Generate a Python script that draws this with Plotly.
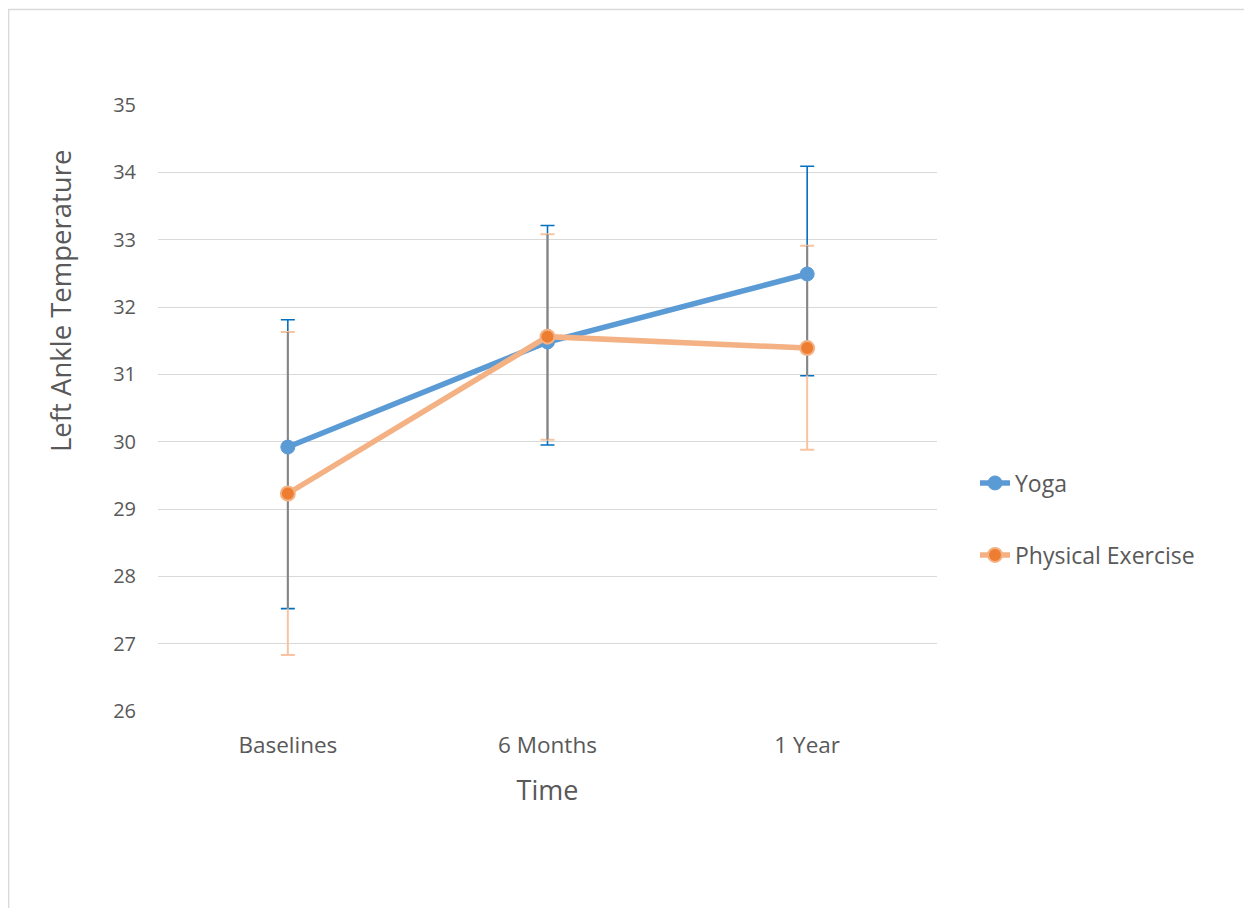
import plotly.graph_objects as go

categories = ["Baselines", "6 Months", "1 Year"]
yoga = [29.92, 31.48, 32.49]
yoga_upper = [31.81, 33.21, 34.09]
yoga_lower = [27.52, 29.95, 30.98]
pe = [29.23, 31.56, 31.39]
pe_upper = [31.63, 33.08, 32.91]
pe_lower = [26.83, 30.03, 29.88]
y_ticks = [26, 27, 28, 29, 30, 31, 32, 33, 34, 35]

OFF = 8  # page offset of the figure (body margin)
W, H = 1252 - OFF, 908 - OFF
L, R, T, B = 158 - OFF, 937 - OFF, 105 - OFF, 711 - OFF


def px_x(p):
    return (p - OFF - L) / (R - L)


def px_y(p):
    return (B - (p - OFF)) / (B - T)


fig = go.Figure()


def err_trace(vals, up, lo, color, width, thick):
    return go.Scatter(
        x=categories, y=vals, mode="markers",
        marker=dict(size=1, color="rgba(0,0,0,0)"),
        error_y=dict(type="data", symmetric=False,
                     array=[u - v for u, v in zip(up, vals)],
                     arrayminus=[v - l for v, l in zip(vals, lo)],
                     color=color, thickness=thick, width=width),
        showlegend=False, hoverinfo="skip")


fig.add_trace(err_trace(yoga, yoga_upper, yoga_lower, "#0070C0", 7, 1.6))
fig.add_trace(err_trace(pe, pe_upper, pe_lower, "#F7C3A0", 7, 2))

ov_lo = [max(a, b) for a, b in zip(yoga_lower, pe_lower)]
ov_hi = [min(a, b) for a, b in zip(yoga_upper, pe_upper)]
fig.add_trace(go.Scatter(
    x=categories, y=ov_lo, mode="markers",
    marker=dict(size=1, color="rgba(0,0,0,0)"),
    error_y=dict(type="data", symmetric=False,
                 array=[h - l for h, l in zip(ov_hi, ov_lo)],
                 arrayminus=[0, 0, 0],
                 color="#7F868C", thickness=2, width=0),
    showlegend=False, hoverinfo="skip"))

fig.add_trace(go.Scatter(
    x=categories, y=yoga, mode="lines+markers", name="Yoga",
    line=dict(color="#5B9BD5", width=5.5),
    marker=dict(size=14, color="#5B9BD5", line=dict(color="#5B9BD5", width=1)),
    legend="legend"))
fig.add_trace(go.Scatter(
    x=categories, y=pe, mode="lines+markers", name="Physical Exercise",
    line=dict(color="#F4B183", width=5.5),
    marker=dict(size=14, color="#ED7D31", line=dict(color="#F4B183", width=2)),
    legend="legend2"))

font_family = "Open Sans"
fig.update_layout(
    width=W, height=H,
    margin=dict(l=L, r=W - R, t=T, b=H - B),
    paper_bgcolor="white", plot_bgcolor="white",
    font=dict(family=font_family, color="#595959", size=20),
    xaxis=dict(range=[-0.5, 2.5], showgrid=False, zeroline=False,
               showline=False, ticks="", ticklabelstandoff=18,
               tickfont=dict(size=22.5, color="#595959"),
               title=dict(text="Time", font=dict(size=27, color="#595959"),
                          standoff=22)),
    yaxis=dict(range=[26, 35], tickvals=y_ticks, showgrid=True,
               gridcolor="#D9D9D9", gridwidth=1.3, zeroline=False,
               showline=False, ticks="", ticklabelstandoff=21,
               tickfont=dict(size=20, color="#595959")),
    annotations=[dict(text="Left Ankle Temperature", textangle=-90,
                      xref="paper", yref="paper", x=px_x(60), y=px_y(301),
                      xanchor="center", yanchor="middle", showarrow=False,
                      font=dict(size=27.5, color="#595959"))],
    legend=dict(x=px_x(975), y=px_y(483), xanchor="left", yanchor="middle",
                font=dict(size=23, color="#595959"), bgcolor="rgba(0,0,0,0)"),
    legend2=dict(x=px_x(975), y=px_y(555), xanchor="left", yanchor="middle",
                 font=dict(size=23, color="#595959"), bgcolor="rgba(0,0,0,0)"),
    shapes=[dict(type="rect", xref="paper", yref="paper",
                 x0=px_x(8.7), x1=px_x(1247.5), y0=px_y(930), y1=px_y(9.5),
                 line=dict(color="#D9D9D9", width=1.3), fillcolor="rgba(0,0,0,0)",
                 layer="below")],
    hovermode=False,
)

fig.write_html("out.html")
